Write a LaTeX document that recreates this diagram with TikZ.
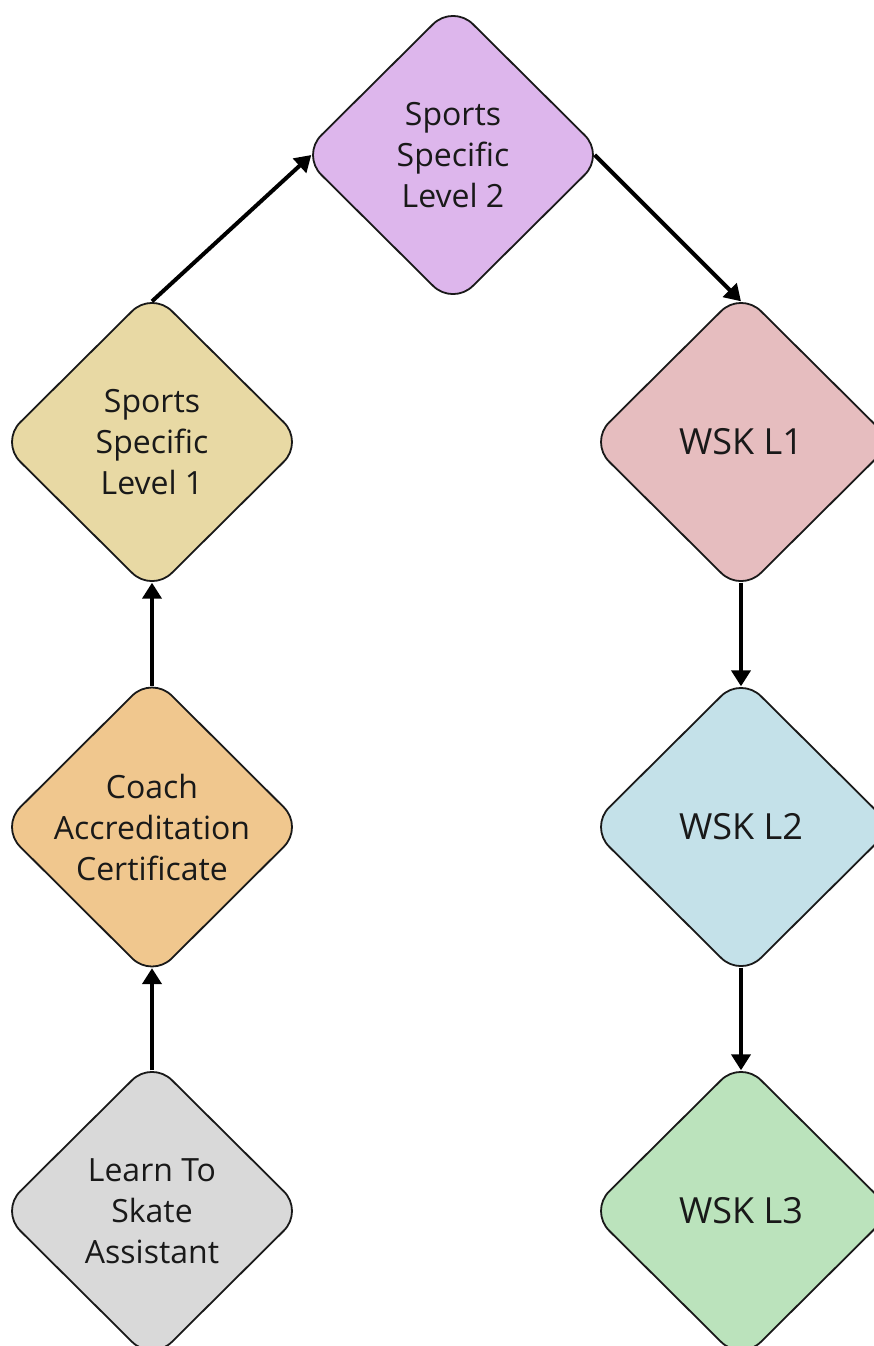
\documentclass[tikz,border=0pt]{standalone}
\usepackage{fontspec}
\setmainfont{Open Sans}
\usetikzlibrary{shapes.geometric,arrows.meta}
\definecolor{cpurple}{HTML}{DDB6EC}
\definecolor{ctan}{HTML}{E8D9A4}
\definecolor{cpink}{HTML}{E6BDBF}
\definecolor{corange}{HTML}{F0C78E}
\definecolor{cblue}{HTML}{C4E1E9}
\definecolor{cgreen}{HTML}{BBE3BC}
\definecolor{cgrey}{HTML}{D9D9D9}
\tikzset{
  dia/.style={diamond, aspect=1, minimum width=152pt, minimum height=151pt, inner sep=0pt,
    draw=black!90, line width=0.9pt, rounded corners=14pt, align=center, text=black!90,
    font=\fontsize{16}{20.5}\selectfont},
  big/.style={font=\fontsize{18}{22}\selectfont},
  conn/.style={line width=2pt, -{Triangle[width=9.5pt,length=8pt]}}
}
\begin{document}
\begin{tikzpicture}[x=0.5pt,y=-0.5pt]
\useasboundingbox (0,0) rectangle (874,1346);
\node[dia, fill=cpurple] (ss2) at (453,155) {Sports\\Specific\\Level 2};
\node[dia, fill=ctan] (ss1) at (152,442) {Sports\\Specific\\Level 1};
\node[dia, fill=corange] (cac) at (152,827) {Coach\\Accreditation\\Certificate};
\node[dia, fill=cgrey] (lts) at (152,1211) {Learn To\\Skate\\Assistant};
\node[dia, big, fill=cpink] (w1) at (741,442) {WSK L1};
\node[dia, big, fill=cblue] (w2) at (741,827) {WSK L2};
\node[dia, big, fill=cgreen] (w3) at (741,1211) {WSK L3};
\draw[conn] ([yshift=-5.6pt]ss1.north) -- ([xshift=5.6pt]ss2.west);
\draw[conn] ([xshift=-5.6pt]ss2.east) -- ([yshift=-5.6pt]w1.north);
\draw[conn] ([yshift=-5.6pt]cac.north) -- ([yshift=5.6pt]ss1.south);
\draw[conn] ([yshift=-5.6pt]lts.north) -- ([yshift=5.6pt]cac.south);
\draw[conn] ([yshift=5.6pt]w1.south) -- ([yshift=-5.6pt]w2.north);
\draw[conn] ([yshift=5.6pt]w2.south) -- ([yshift=-5.6pt]w3.north);
\end{tikzpicture}
\end{document}
